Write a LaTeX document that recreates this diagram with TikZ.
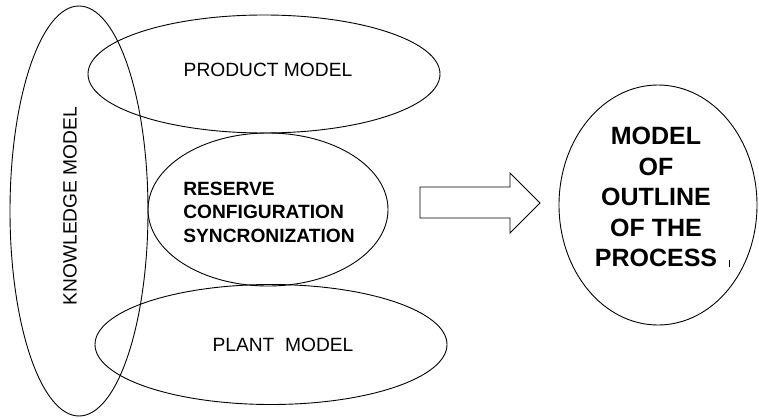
\documentclass[tikz,border=0pt]{standalone}
\usepackage{fontspec}
\setmainfont{Liberation Sans}
\usetikzlibrary{shapes.geometric}
\begin{document}
\begin{tikzpicture}[x=1pt,y=-1pt,
  oval/.style={draw,ellipse,line width=0.9pt,inner sep=0pt},
  lbl/.style={inner sep=0pt,font=\fontsize{19.2}{23.5}\selectfont},
  blbl/.style={inner sep=0pt,align=left,font=\fontsize{19.2}{23.5}\selectfont\bfseries},
  big/.style={inner sep=0pt,align=center,font=\fontsize{25}{30.5}\selectfont\bfseries}]
\useasboundingbox (0,0) rectangle (759,417);

% the four overlapping ovals of the model
\node[oval,minimum width=138pt,minimum height=410pt] (know) at (79,211) {};
\node[oval,minimum width=352pt,minimum height=118pt] (prod) at (264,74) {};
\node[oval,minimum width=240pt,minimum height=153pt] (res) at (268,209.5) {};
\node[oval,minimum width=352pt,minimum height=120pt] (plant) at (271,344.5) {};

\node[lbl,rotate=90] (tknow) at (70,206) {KNOWLEDGE MODEL};
\node[lbl] (tprod) at (268,70) {PRODUCT MODEL};
\node[blbl] (tres) at (269,212) {RESERVE\\CONFIGURATION\\SYNCRONIZATION};
\node[lbl] (tplant) at (283,345) {PLANT\ \ MODEL};

% block arrow towards the result
\draw[line width=0.9pt,line join=miter]
  (420,187) -- (510,187) -- (510,173) -- (540,203) -- (510,233)
  -- (510,218) -- (420,218) -- cycle;

% resulting model
\node[oval,minimum width=198pt,minimum height=240pt] (out) at (658,205) {};
\node[big] (tout) at (656,197) {MODEL\\OF\\OUTLINE\\OF THE\\PROCESS};
\coordinate (tk1) at (729,260);
\coordinate (tk2) at (729,267);
\draw[line width=0.6pt] (tk1) -- (tk2);
\end{tikzpicture}
\end{document}
